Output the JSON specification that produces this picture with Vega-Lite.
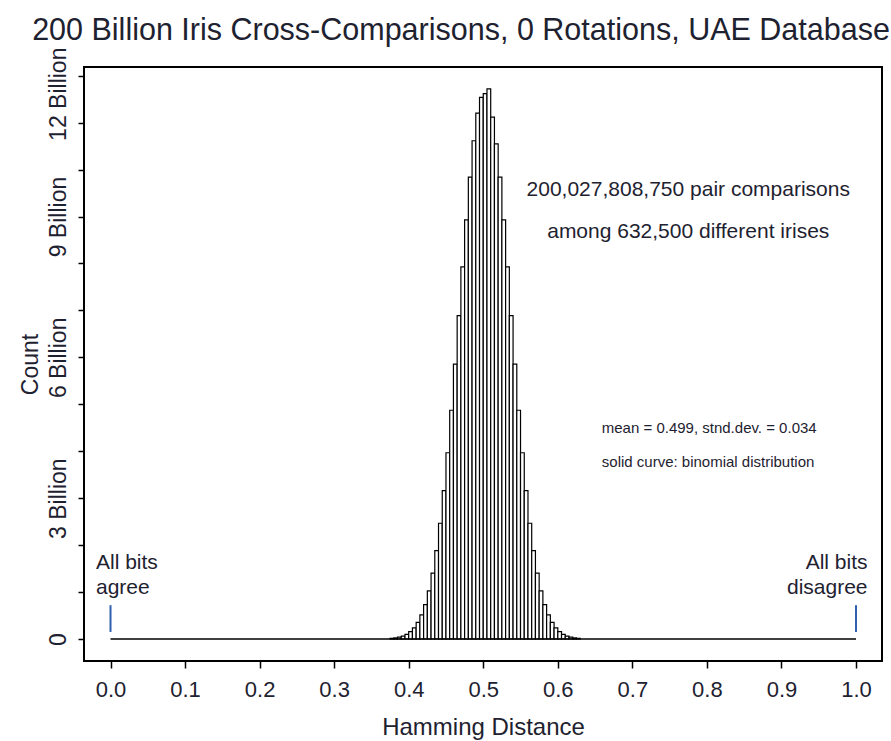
{
  "$schema": "https://vega.github.io/schema/vega-lite/v6.json",
  "width": 798,
  "height": 594,
  "autosize": "none",
  "padding": {"left": 84, "top": 67, "right": 9, "bottom": 80},
  "background": "white",
  "config": {
    "font": "Liberation Sans",
    "view": {"stroke": "black", "strokeWidth": 2},
    "title": {"fontSize": 30.5, "fontWeight": "normal", "color": "#1e2230"}
  },
  "title": {"text": "200 Billion Iris Cross-Comparisons, 0 Rotations, UAE Database", "anchor": "middle", "dx": -22, "offset": 1},
  "datasets": {
    "hist": [
      {"lo": 0.375, "hi": 0.380, "count": 0.014},
      {"lo": 0.380, "hi": 0.385, "count": 0.023},
      {"lo": 0.385, "hi": 0.390, "count": 0.038},
      {"lo": 0.390, "hi": 0.395, "count": 0.062},
      {"lo": 0.395, "hi": 0.400, "count": 0.099},
      {"lo": 0.400, "hi": 0.405, "count": 0.155},
      {"lo": 0.405, "hi": 0.410, "count": 0.236},
      {"lo": 0.410, "hi": 0.415, "count": 0.352},
      {"lo": 0.415, "hi": 0.420, "count": 0.514},
      {"lo": 0.420, "hi": 0.425, "count": 0.734},
      {"lo": 0.425, "hi": 0.430, "count": 1.027},
      {"lo": 0.430, "hi": 0.435, "count": 1.405},
      {"lo": 0.435, "hi": 0.440, "count": 1.882},
      {"lo": 0.440, "hi": 0.445, "count": 2.466},
      {"lo": 0.445, "hi": 0.450, "count": 3.162},
      {"lo": 0.450, "hi": 0.455, "count": 3.968},
      {"lo": 0.455, "hi": 0.460, "count": 4.873},
      {"lo": 0.460, "hi": 0.465, "count": 5.857},
      {"lo": 0.465, "hi": 0.470, "count": 6.888},
      {"lo": 0.470, "hi": 0.475, "count": 7.927},
      {"lo": 0.475, "hi": 0.480, "count": 8.929},
      {"lo": 0.480, "hi": 0.485, "count": 9.841},
      {"lo": 0.485, "hi": 0.490, "count": 10.615},
      {"lo": 0.490, "hi": 0.495, "count": 11.205},
      {"lo": 0.495, "hi": 0.500, "count": 11.54},
      {"lo": 0.500, "hi": 0.505, "count": 11.62},
      {"lo": 0.505, "hi": 0.510, "count": 11.72},
      {"lo": 0.510, "hi": 0.515, "count": 11.12},
      {"lo": 0.515, "hi": 0.520, "count": 10.55},
      {"lo": 0.520, "hi": 0.525, "count": 9.841},
      {"lo": 0.525, "hi": 0.530, "count": 8.929},
      {"lo": 0.530, "hi": 0.535, "count": 7.927},
      {"lo": 0.535, "hi": 0.540, "count": 6.888},
      {"lo": 0.540, "hi": 0.545, "count": 5.857},
      {"lo": 0.545, "hi": 0.550, "count": 4.873},
      {"lo": 0.550, "hi": 0.555, "count": 3.968},
      {"lo": 0.555, "hi": 0.560, "count": 3.162},
      {"lo": 0.560, "hi": 0.565, "count": 2.466},
      {"lo": 0.565, "hi": 0.570, "count": 1.882},
      {"lo": 0.570, "hi": 0.575, "count": 1.405},
      {"lo": 0.575, "hi": 0.580, "count": 1.027},
      {"lo": 0.580, "hi": 0.585, "count": 0.734},
      {"lo": 0.585, "hi": 0.590, "count": 0.514},
      {"lo": 0.590, "hi": 0.595, "count": 0.352},
      {"lo": 0.595, "hi": 0.600, "count": 0.236},
      {"lo": 0.600, "hi": 0.605, "count": 0.155},
      {"lo": 0.605, "hi": 0.610, "count": 0.099},
      {"lo": 0.610, "hi": 0.615, "count": 0.062},
      {"lo": 0.615, "hi": 0.620, "count": 0.038},
      {"lo": 0.620, "hi": 0.625, "count": 0.023},
      {"lo": 0.625, "hi": 0.630, "count": 0.014}
    ],
    "base": [{"x": 0, "x2": 1, "y": 0}],
    "ends": [{"x": 0, "y": 0.15, "y2": 0.72}, {"x": 1, "y": 0.15, "y2": 0.72}],
    "center": [
      {"x": 0.775, "y": 9.565, "label": "200,027,808,750 pair comparisons"},
      {"x": 0.775, "y": 8.67, "label": "among 632,500 different irises"}
    ],
    "small": [
      {"x": 0.659, "y": 4.495, "label": "mean = 0.499, stnd.dev. = 0.034"},
      {"x": 0.659, "y": 3.77, "label": "solid curve:  binomial distribution"}
    ],
    "left": [
      {"x": -0.0195, "y": 1.62, "label": "All bits"},
      {"x": -0.0195, "y": 1.09, "label": "agree"}
    ],
    "right": [
      {"x": 1.0155, "y": 1.62, "label": "All bits"},
      {"x": 1.0155, "y": 1.09, "label": "disagree"}
    ]
  },
  "layer": [
    {
      "data": {"name": "hist"},
      "mark": {"type": "bar", "fill": "white", "stroke": "black", "strokeWidth": 1.2},
      "encoding": {
        "x": {
          "field": "lo", "type": "quantitative", "title": "Hamming Distance",
          "scale": {"domain": [-0.03555, 1.03488], "nice": false, "zero": false},
          "axis": {
            "title": "Hamming Distance", "values": [0, 0.1, 0.2, 0.3, 0.4, 0.5, 0.6, 0.7, 0.8, 0.9, 1.0],
            "format": ".1f", "domain": false, "grid": false, "tickSize": 7, "tickWidth": 1.5, "tickColor": "black",
            "labelFontSize": 22, "labelColor": "#1e2230", "labelPadding": 11,
            "titleFontSize": 24, "titleFontWeight": "normal", "titleColor": "#1e2230", "titlePadding": 15
          }
        },
        "x2": {"field": "hi"},
        "y": {
          "field": "count", "type": "quantitative", "title": "Count",
          "scale": {"domain": [-0.469, 12.186], "nice": false, "zero": false},
          "axis": {
            "title": "Count", "values": [0, 1, 2, 3, 4, 5, 6, 7, 8, 9, 10, 11, 12],
            "labelExpr": "datum.value == 0 ? '0' : (datum.value % 3 == 0 ? datum.value + ' Billion' : '')",
            "domain": false, "grid": false, "tickSize": 6, "tickWidth": 1.5, "tickColor": "black",
            "labelAngle": -90, "labelAlign": "center", "labelBaseline": "bottom", "labelPadding": 8,
            "labelOffset": {"condition": {"test": "datum.value == 12", "value": 18}, "value": 0},
            "labelFontSize": 23, "labelColor": "#1e2230",
            "titleFontSize": 23, "titleFontWeight": "normal", "titleColor": "#1e2230", "titlePadding": 5
          }
        },
        "y2": {"datum": 0}
      }
    },
    {
      "data": {"name": "base"},
      "mark": {"type": "rule", "color": "black", "strokeWidth": 1.5},
      "encoding": {
        "x": {"field": "x", "type": "quantitative", "title": "Hamming Distance", "scale": {"domain": [-0.03555, 1.03488], "nice": false, "zero": false}},
        "x2": {"field": "x2"},
        "y": {"field": "y", "type": "quantitative", "title": "Count", "scale": {"domain": [-0.469, 12.186], "nice": false, "zero": false}}
      }
    },
    {
      "data": {"name": "ends"},
      "mark": {"type": "rule", "color": "#2f5fb0", "strokeWidth": 2},
      "encoding": {
        "x": {"field": "x", "type": "quantitative", "title": "Hamming Distance", "scale": {"domain": [-0.03555, 1.03488], "nice": false, "zero": false}},
        "y": {"field": "y", "type": "quantitative", "title": "Count", "scale": {"domain": [-0.469, 12.186], "nice": false, "zero": false}},
        "y2": {"field": "y2"}
      }
    },
    {
      "data": {"name": "center"},
      "mark": {"type": "text", "fontSize": 21, "align": "center", "baseline": "middle", "color": "#1e2230"},
      "encoding": {
        "x": {"field": "x", "type": "quantitative", "title": "Hamming Distance", "scale": {"domain": [-0.03555, 1.03488], "nice": false, "zero": false}},
        "y": {"field": "y", "type": "quantitative", "title": "Count", "scale": {"domain": [-0.469, 12.186], "nice": false, "zero": false}},
        "text": {"field": "label"}
      }
    },
    {
      "data": {"name": "small"},
      "mark": {"type": "text", "fontSize": 15, "align": "left", "baseline": "middle", "color": "#1e2230"},
      "encoding": {
        "x": {"field": "x", "type": "quantitative", "title": "Hamming Distance", "scale": {"domain": [-0.03555, 1.03488], "nice": false, "zero": false}},
        "y": {"field": "y", "type": "quantitative", "title": "Count", "scale": {"domain": [-0.469, 12.186], "nice": false, "zero": false}},
        "text": {"field": "label"}
      }
    },
    {
      "data": {"name": "left"},
      "mark": {"type": "text", "fontSize": 21, "align": "left", "baseline": "middle", "color": "#1e2230"},
      "encoding": {
        "x": {"field": "x", "type": "quantitative", "title": "Hamming Distance", "scale": {"domain": [-0.03555, 1.03488], "nice": false, "zero": false}},
        "y": {"field": "y", "type": "quantitative", "title": "Count", "scale": {"domain": [-0.469, 12.186], "nice": false, "zero": false}},
        "text": {"field": "label"}
      }
    },
    {
      "data": {"name": "right"},
      "mark": {"type": "text", "fontSize": 21, "align": "right", "baseline": "middle", "color": "#1e2230"},
      "encoding": {
        "x": {"field": "x", "type": "quantitative", "title": "Hamming Distance", "scale": {"domain": [-0.03555, 1.03488], "nice": false, "zero": false}},
        "y": {"field": "y", "type": "quantitative", "title": "Count", "scale": {"domain": [-0.469, 12.186], "nice": false, "zero": false}},
        "text": {"field": "label"}
      }
    }
  ]
}
